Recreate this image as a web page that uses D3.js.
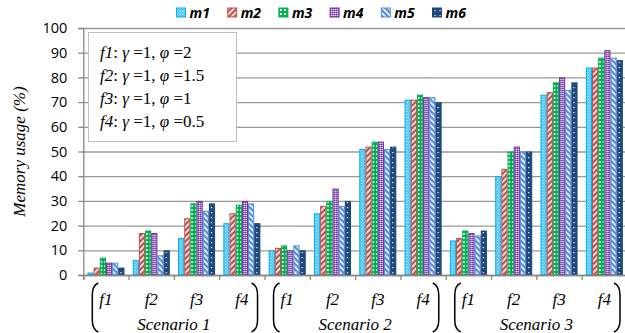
<!DOCTYPE html>
<html>
<head>
<meta charset="utf-8">
<script src="https://cdn.jsdelivr.net/npm/d3@7"></script>
<style>
  body { margin: 0; background: #fff; }
  svg { display: block; }
</style>
</head>
<body>
<script>
// chart data
var series = ["m1", "m2", "m3", "m4", "m5", "m6"];
var funcs = ["f1", "f2", "f3", "f4"];
var scenarios = ["Scenario 1", "Scenario 2", "Scenario 3"];
var yTicks = [0, 10, 20, 30, 40, 50, 60, 70, 80, 90, 100];
var notes = [
  ["f1", "1", "2"],
  ["f2", "1", "1.5"],
  ["f3", "1", "1"],
  ["f4", "1", "0.5"]
];

// one array per scenario, rows f1..f4, columns m1..m6
var scenario1 = [
  [1, 3, 7, 5, 5, 3],
  [6, 17, 18, 17, 8, 10],
  [15, 23, 29, 30, 26, 29],
  [21, 25, 28.5, 30, 29, 21]
];
var scenario2 = [
  [10, 11, 12, 10, 12, 10],
  [25, 28, 30, 35, 28, 30],
  [51, 52, 54, 54, 51, 52],
  [71, 71, 73, 72, 72, 70]
];
var scenario3 = [
  [14, 15, 18, 17, 16, 18],
  [40, 43, 50, 52, 50, 50],
  [73, 74, 78, 80, 75, 78],
  [84, 84, 88, 91, 88, 87]
];

var colors = {
  m1: "#00B0F0", m2: "#C0504D", m3: "#00B050",
  m4: "#7030A0", m5: "#558ED5", m6: "#1F497D"
};

var W = 625, H = 333;
var pLeft = 83.3, pRight = 627, pTop = 28, pBottom = 275;

var categories = [];
[scenario1, scenario2, scenario3].forEach(function (sc, si) {
  sc.forEach(function (row, fi) {
    categories.push({ id: si + "-" + fi, f: funcs[fi], s: si, values: row });
  });
});

var svg = d3.select("body").append("svg")
  .attr("width", W)
  .attr("height", H);

// patterns
var defs = svg.append("defs");
function pat(id, size, bg) {
  var p = defs.append("pattern")
    .attr("id", id)
    .attr("patternUnits", "userSpaceOnUse")
    .attr("width", size)
    .attr("height", size);
  p.append("rect").attr("width", size).attr("height", size).attr("fill", bg);
  return p;
}
var p1 = pat("pm1", 3, "#4CC6F3");
p1.append("rect").attr("x", 0).attr("y", 0).attr("width", 1).attr("height", 1).attr("fill", "#E6F7FD");
p1.append("rect").attr("x", 1.5).attr("y", 1.5).attr("width", 1).attr("height", 1).attr("fill", "#BDEBFB");
var p2 = pat("pm2", 4, colors.m2).attr("patternTransform", "rotate(45)");
p2.append("rect").attr("x", 0).attr("y", 0).attr("width", 1.6).attr("height", 4).attr("fill", "#fff");
var p3 = pat("pm3", 4, colors.m3);
p3.append("rect").attr("x", 1).attr("y", 1).attr("width", 2).attr("height", 2).attr("fill", "#fff");
var p4 = pat("pm4", 2, "#A77FC6");
p4.append("rect").attr("x", 0).attr("y", 0).attr("width", 1).attr("height", 1).attr("fill", colors.m4);
p4.append("rect").attr("x", 1).attr("y", 1).attr("width", 1).attr("height", 1).attr("fill", "#E8DDF0");
var p5 = pat("pm5", 4, colors.m5).attr("patternTransform", "rotate(-45)");
p5.append("rect").attr("x", 0).attr("y", 0).attr("width", 1.6).attr("height", 4).attr("fill", "#fff");
var p6 = pat("pm6", 5, colors.m6);
p6.append("rect").attr("x", 2).attr("y", 2).attr("width", 1.2).attr("height", 1.2).attr("fill", "#fff");

// scales
var y = d3.scaleLinear().domain([0, 100]).range([pBottom, pTop]);
var x0 = d3.scaleBand().domain(categories.map(function (d) { return d.id; }))
  .range([pLeft, pRight]).paddingInner(0).paddingOuter(0);
var x1 = d3.scaleBand().domain(series).range([0, x0.bandwidth()])
  .paddingInner(0).paddingOuter(0.67);
var xb = d3.scaleLinear().domain([0, categories.length]).range([pLeft, pRight]);

// gridlines
svg.append("g")
  .attr("transform", "translate(" + pLeft + ",0)")
  .call(d3.axisLeft(y).tickValues(yTicks).tickSize(-(pRight - pLeft)).tickFormat(""))
  .call(function (g) {
    g.select(".domain").remove();
    g.selectAll("line").attr("stroke", "#999").attr("stroke-width", 1.3);
  });

// bars
var groups = svg.append("g").selectAll("g")
  .data(categories)
  .join("g")
  .attr("transform", function (d) { return "translate(" + x0(d.id) + ",0)"; });

groups.selectAll("rect")
  .data(function (d) {
    return d.values.map(function (v, i) { return { key: series[i], value: v }; });
  })
  .join("rect")
  .attr("x", function (d) { return x1(d.key) + 0.5; })
  .attr("y", function (d) { return y(d.value) + 0.5; })
  .attr("width", x1.bandwidth() - 1)
  .attr("height", function (d) { return Math.max(0, y(0) - y(d.value) - 1); })
  .attr("fill", function (d) { return "url(#p" + d.key + ")"; })
  .attr("stroke", function (d) { return colors[d.key]; })
  .attr("stroke-width", 1);

// y axis
svg.append("g")
  .attr("transform", "translate(" + pLeft + ",0)")
  .call(d3.axisLeft(y).tickValues(yTicks).tickSize(5).tickPadding(11))
  .call(function (g) {
    g.select(".domain").attr("stroke", "#888").attr("stroke-width", 1.3);
    g.selectAll("line").attr("stroke", "#888").attr("stroke-width", 1.3);
    g.selectAll("text")
      .attr("font-family", "'Open Sans', sans-serif")
      .attr("font-size", 14.5)
      .attr("fill", "#000");
  });

// x axis (category boundaries)
svg.append("g")
  .attr("transform", "translate(0," + pBottom + ")")
  .call(d3.axisBottom(xb).tickValues(d3.range(0, categories.length + 1)).tickSize(5).tickFormat(""))
  .call(function (g) {
    g.select(".domain").attr("stroke", "#888").attr("stroke-width", 1.3);
    g.selectAll("line").attr("stroke", "#888").attr("stroke-width", 1.3);
  });

// category labels
svg.append("g").selectAll("text")
  .data(categories)
  .join("text")
  .attr("x", function (d) { return x0(d.id) + x0.bandwidth() / 2; })
  .attr("y", 305)
  .attr("text-anchor", "middle")
  .attr("font-family", "'Liberation Serif', serif")
  .attr("font-style", "italic")
  .attr("font-size", 17)
  .text(function (d) { return d.f; });

// scenario labels and brackets
var scG = svg.append("g").selectAll("g")
  .data(scenarios)
  .join("g");

scG.append("text")
  .attr("x", function (d, i) { return (xb(i * 4) + xb(i * 4 + 4)) / 2; })
  .attr("y", 330)
  .attr("text-anchor", "middle")
  .attr("font-family", "'Liberation Serif', serif")
  .attr("font-style", "italic")
  .attr("font-size", 17)
  .text(function (d) { return d; });

function bracket(x, dir) {
  var t = 283, b = 332, c = 6 * dir;
  return "M" + (x + c) + "," + t +
    " C" + (x + c * 0.2) + "," + (t + 2) + " " + x + "," + (t + 6) + " " + x + "," + (t + 12) +
    " L" + x + "," + (b - 12) +
    " C" + x + "," + (b - 6) + " " + (x + c * 0.2) + "," + (b - 2) + " " + (x + c) + "," + b;
}
scG.append("path")
  .attr("d", function (d, i) { return bracket(xb(i * 4) + 9, 1); })
  .attr("fill", "none").attr("stroke", "#000").attr("stroke-width", 1.5);
scG.append("path")
  .attr("d", function (d, i) { return bracket(xb(i * 4 + 4) - 7, -1); })
  .attr("fill", "none").attr("stroke", "#000").attr("stroke-width", 1.5);

// y title
svg.append("text")
  .attr("transform", "translate(25," + ((pTop + pBottom) / 2) + ") rotate(-90)")
  .attr("text-anchor", "middle")
  .attr("font-family", "'Liberation Serif', serif")
  .attr("font-style", "italic")
  .attr("font-size", 17)
  .text("Memory usage (%)");

// note box
var box = svg.append("g");
box.append("rect")
  .attr("x", 88.5).attr("y", 32.5)
  .attr("width", 148).attr("height", 109)
  .attr("fill", "#fff")
  .attr("stroke", "#BFBFBF")
  .attr("stroke-width", 1);
var lines = box.selectAll("text")
  .data(notes)
  .join("text")
  .attr("x", 100)
  .attr("y", function (d, i) { return 58 + i * 23; })
  .attr("font-family", "'Liberation Serif', serif")
  .attr("font-size", 17);
lines.append("tspan").attr("font-style", "italic").text(function (d) { return d[0]; });
lines.append("tspan").text(": ");
lines.append("tspan").attr("font-style", "italic").text("γ");
lines.append("tspan").text(function (d) { return " =" + d[1] + ", "; });
lines.append("tspan").attr("font-style", "italic").text("φ");
lines.append("tspan").text(function (d) { return " =" + d[2]; });

// legend
var leg = svg.append("g").selectAll("g")
  .data(series)
  .join("g")
  .attr("transform", function (d, i) { return "translate(" + (176.5 + i * 51.2) + ",8)"; });
leg.append("rect")
  .attr("width", 9).attr("height", 9)
  .attr("fill", function (d) { return "url(#p" + d + ")"; })
  .attr("stroke", function (d) { return colors[d]; })
  .attr("stroke-width", 1);
leg.append("text")
  .attr("x", 13)
  .attr("y", 9.5)
  .attr("font-family", "'Open Sans', sans-serif")
  .attr("font-style", "italic")
  .attr("font-weight", "bold")
  .attr("font-size", 14)
  .text(function (d) { return d; });
</script>
</body>
</html>
